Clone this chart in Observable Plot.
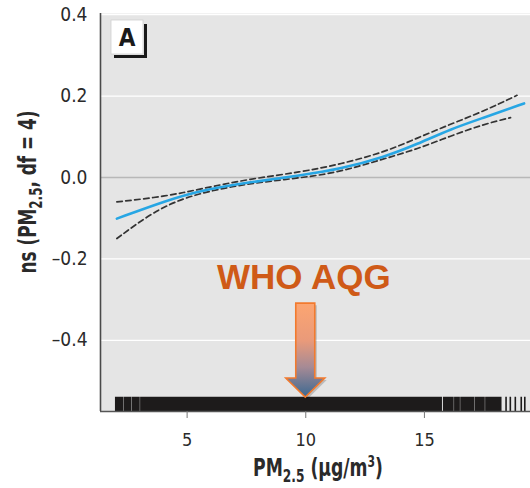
<!DOCTYPE html>
<html><head><meta charset="utf-8">
<script src="https://cdn.jsdelivr.net/npm/d3@7"></script>
<script src="https://cdn.jsdelivr.net/npm/@observablehq/plot@0.6"></script>
<style>
body{margin:0;background:#fff;}
#chart svg{display:block;}
</style></head><body><div id="chart"></div>
<script>
// ---- data ----
const fitX   = [2.04, 4.16, 5.56, 7.67, 9.78, 11.47, 13.3, 14.7, 16.1, 17.5, 19.2];
const fitY   = [-0.101, -0.056, -0.032, -0.011, 0.005, 0.021, 0.05, 0.082, 0.119, 0.147, 0.182];
const upperX = [2.04, 4.16, 5.56, 7.67, 9.78, 11.47, 13.3, 14.7, 16.1, 17.5, 18.9];
const upperY = [-0.06, -0.046, -0.028, -0.003, 0.013, 0.033, 0.062, 0.097, 0.131, 0.163, 0.202];
const lowerX = [2.04, 3.45, 4.86, 6.97, 9.08, 11.19, 13.3, 14.7, 16.1, 17.5, 18.63];
const lowerY = [-0.150, -0.089, -0.048, -0.020, -0.005, 0.009, 0.046, 0.070, 0.102, 0.131, 0.147];
// rug: dense stretches of observations and isolated ones (PM2.5, µg/m3)
const rugBandStart = [1.98, 2.34, 2.69, 3.04, 15.80, 16.27, 16.53, 17.13, 17.58];
const rugBandEnd   = [2.325, 2.675, 3.025, 15.76, 16.255, 16.515, 17.115, 17.565, 18.27];
const rugSingles   = [18.44, 18.62, 18.83, 19.08, 19.23];
const whoAQG = 10;            // WHO air quality guideline (µg/m3)
const xTicks = [5, 10, 15];
const yTicks = [-0.4, -0.2, 0.0, 0.2, 0.4];
const whiteGrid = [-0.4, -0.2, 0.2, 0.4];
const xDomain = [1.35, 19.47];
const yDomain = [-0.575, 0.403];

const pts = (xs, ys) => xs.map((x, i) => ({x, y: ys[i]}));
const fit = pts(fitX, fitY), upper = pts(upperX, upperY), lower = pts(lowerX, lowerY);
const bands = rugBandStart.map((s, i) => ({x1: s, x2: rugBandEnd[i]}));
const rugTop = -0.54;

const narrow = "'Liberation Sans Narrow','DejaVu Sans Condensed','Arial Narrow',sans-serif";
const fmtY = d => d < 0 ? "\u2013" + Math.abs(d).toFixed(1) : d.toFixed(1);

const plot = Plot.plot({
  width: 530, height: 488,
  marginLeft: 100, marginRight: 0, marginTop: 13, marginBottom: 77,
  style: {fontFamily: narrow, background: "transparent", overflow: "visible"},
  x: {domain: xDomain},
  y: {domain: yDomain},
  marks: [
    Plot.frame({fill: "#e5e5e5", stroke: null}),
    Plot.ruleY(whiteGrid, {stroke: "#ffffff", strokeWidth: 1.3}),
    Plot.ruleY([0], {stroke: "#b8b8b8", strokeWidth: 1.3}),
    Plot.rect(bands, {x1: "x1", x2: "x2", y1: () => yDomain[0], y2: () => rugTop, fill: "#1d1b1b"}),
    Plot.ruleX(rugSingles, {x: d => d, y1: () => yDomain[0], y2: () => rugTop, stroke: "#1d1b1b", strokeWidth: 1.6}),
    Plot.line(upper, {x: "x", y: "y", curve: "basis", stroke: "#333", strokeWidth: 1.7, strokeDasharray: "5.5,3.5"}),
    Plot.line(lower, {x: "x", y: "y", curve: "basis", stroke: "#333", strokeWidth: 1.7, strokeDasharray: "5.5,3.5"}),
    Plot.line(fit, {x: "x", y: "y", curve: "basis", stroke: "#27a6e4", strokeWidth: 2.6}),
    Plot.ruleX([xDomain[0]], {stroke: "#4a4a4a", strokeWidth: 1.6}),
    Plot.ruleY([yDomain[0]], {stroke: "#555555", strokeWidth: 1.6}),
    Plot.axisX(xTicks, {tickSize: 7, tickPadding: 15, fontSize: 18, stroke: "#777", color: "#2a2a2a", label: null}),
    Plot.axisY(yTicks, {tickSize: 0, tickPadding: 13, fontSize: 19, tickFormat: fmtY, color: "#2a2a2a", label: null}),
    Plot.text([{x: whoAQG, y: -0.273}], {x: "x", y: "y", text: () => "WHO AQG", lineAnchor: "bottom", dx: -2,
      fontFamily: "'Liberation Sans',Arial,sans-serif", fontWeight: "bold", fontSize: 35, fill: "#cf5a17"})
  ]
});
document.getElementById("chart").appendChild(plot);

// ---- decorations using the plot's scales ----
const svg = d3.select(plot);
const sx = plot.scale("x"), sy = plot.scale("y");
const defs = svg.append("defs");
const grad = defs.append("linearGradient").attr("id", "arrowGrad").attr("x1", 0).attr("y1", 0).attr("x2", 0).attr("y2", 1);
grad.append("stop").attr("offset", "0%").attr("stop-color", "#fca571");
grad.append("stop").attr("offset", "40%").attr("stop-color", "#e99a7a");
grad.append("stop").attr("offset", "68%").attr("stop-color", "#a68a95");
grad.append("stop").attr("offset", "100%").attr("stop-color", "#3a6891");

const cx = sx.apply(whoAQG);
const yTop = sy.apply(-0.31), yBase = sy.apply(-0.494), yTip = sy.apply(-0.541);
const arrowPath = `M${cx-9.5},${yTop}H${cx+9.5}V${yBase}H${cx+19.5}L${cx},${yTip}L${cx-19.5},${yBase}H${cx-9.5}Z`;
svg.append("path").attr("d", arrowPath).attr("fill", "#000").attr("opacity", 0.18).attr("transform", "translate(2,2)");
svg.append("path").attr("d", arrowPath).attr("fill", "url(#arrowGrad)").attr("stroke", "#f27a2e").attr("stroke-width", 1.6).attr("stroke-linejoin", "miter");

// panel label "A"
const gA = svg.append("g");
gA.append("path").attr("d", "M145.5,24V56.5H114").attr("fill", "none").attr("stroke", "#1a1a1a").attr("stroke-width", 3);
gA.append("rect").attr("x", 111).attr("y", 20).attr("width", 32).attr("height", 34).attr("fill", "#fff").attr("stroke", "#d0d0d0").attr("stroke-width", 0.8);
gA.append("text").attr("x", 127).attr("y", 46).attr("text-anchor", "middle").attr("font-family", narrow)
  .attr("font-weight", "bold").attr("font-size", 24).attr("fill", "#1a1a1a").text("A");

// axis titles with sub/superscripts, horizontally condensed to the reference widths
function fitTitle(sel, targetWidth, baseTransform) {
  const w = sel.node().getBBox().width;
  const k = w > 0 ? Math.min(1, targetWidth / w) : 1;
  sel.attr("transform", `${baseTransform} scale(${k},1)`);
}
const xt = svg.append("text").attr("text-anchor", "middle")
  .attr("font-family", narrow).attr("font-weight", "bold").attr("font-size", 24).attr("fill", "#2a2a2a");
xt.append("tspan").text("PM");
xt.append("tspan").attr("font-size", 17).attr("dy", 6).text("2.5");
xt.append("tspan").attr("dy", -6).text(" (\u00b5g/m");
xt.append("tspan").attr("font-size", 15).attr("dy", -9).text("3");
xt.append("tspan").attr("dy", 9).text(")");
fitTitle(xt, 130, "translate(318,476)");

const yt = svg.append("text").attr("text-anchor", "middle")
  .attr("font-family", narrow).attr("font-weight", "bold").attr("font-size", 24).attr("fill", "#2a2a2a");
yt.append("tspan").text("ns (PM");
yt.append("tspan").attr("font-size", 17).attr("dy", 6).text("2.5");
yt.append("tspan").attr("dy", -6).text(", df = 4)");
fitTitle(yt, 163, "translate(36,192) rotate(-90)");
</script>
</body></html>
